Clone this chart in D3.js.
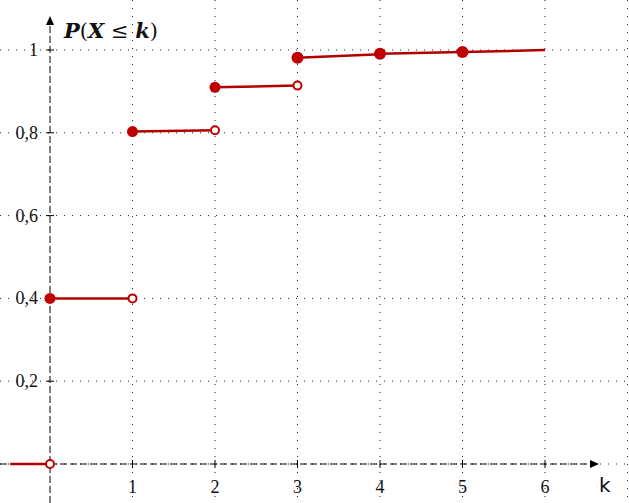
<!DOCTYPE html>
<html><head><meta charset="utf-8">
<script src="https://cdn.jsdelivr.net/npm/d3@7"></script>
<style>html,body{margin:0;padding:0;background:#fff;}svg{display:block;}</style>
</head><body>
<svg id="c" width="629" height="503"></svg>
<script>
// Data
const stepStart = [-0.48, 0, 1, 2, 3, 4, 5];
const stepEnd   = [0, 1, 2, 3, 4, 5, 6];
const valStart  = [0, 0.4, 0.803, 0.91, 0.981, 0.991, 0.995];
const valEnd    = [0, 0.4, 0.806, 0.914, 0.99, 0.995, 1.0];
const filledK   = [0, 1, 2, 3, 4, 5];
const filledV   = [0.4, 0.803, 0.91, 0.981, 0.991, 0.995];
const openK     = [0, 1, 2, 3];
const openV     = [0, 0.4, 0.806, 0.914];
const xTicks    = [1, 2, 3, 4, 5, 6];
const yTicks    = [0.2, 0.4, 0.6, 0.8, 1];
const yTickLabels = ["0,2", "0,4", "0,6", "0,8", "1"];
const xGrid     = [1, 2, 3, 4, 5, 6, 7];

const svg = d3.select("#c");
const W = 629, H = 503;
const x = d3.scaleLinear().domain([0, 6]).range([50, 545]);
const y = d3.scaleLinear().domain([0, 1]).range([464, 50]);

// grid
const g = svg.append("g");
g.selectAll(".vg").data(xGrid).join("line")
  .attr("x1", d => x(d)).attr("x2", d => x(d)).attr("y1", 0).attr("y2", H)
  .attr("stroke", "#222").attr("stroke-width", 1).attr("stroke-dasharray", "1,7");
g.selectAll(".hg").data([0].concat(yTicks)).join("line")
  .attr("x1", 0).attr("x2", W).attr("y1", d => y(d)).attr("y2", d => y(d))
  .attr("stroke", "#222").attr("stroke-width", 1).attr("stroke-dasharray", "1,7");

// axes
const ax = svg.append("g");
ax.append("line").attr("x1", 0).attr("x2", 592).attr("y1", y(0)).attr("y2", y(0))
  .attr("stroke", "#000").attr("stroke-width", 1).attr("stroke-dasharray", "7,3");
ax.append("line").attr("x1", x(0)).attr("x2", x(0)).attr("y1", H).attr("y2", 24)
  .attr("stroke", "#000").attr("stroke-width", 1).attr("stroke-dasharray", "7,3");
ax.append("path").attr("d", `M${599},${y(0)} L${590},${y(0)-4} L${590},${y(0)+4} Z`).attr("fill", "#000");
ax.append("path").attr("d", `M${x(0)},${16} L${x(0)-4},${25} L${x(0)+4},${25} Z`).attr("fill", "#000");

// ticks
ax.selectAll(".xt").data(xTicks).join("line")
  .attr("x1", d => x(d)).attr("x2", d => x(d)).attr("y1", y(0) - 4).attr("y2", y(0) + 4)
  .attr("stroke", "#000");
ax.selectAll(".yt").data(yTicks).join("line")
  .attr("x1", x(0) - 4).attr("x2", x(0) + 4).attr("y1", d => y(d)).attr("y2", d => y(d))
  .attr("stroke", "#000");

const lblFont = "'Liberation Serif', 'DejaVu Serif', serif";
ax.selectAll(".xl").data(xTicks).join("text")
  .attr("x", d => x(d)).attr("y", 493).attr("text-anchor", "middle")
  .attr("font-family", lblFont).attr("font-size", 18).attr("fill", "#111").text(d => d);
ax.selectAll(".yl").data(yTicks).join("text")
  .attr("x", 38).attr("y", d => y(d) + 6).attr("text-anchor", "end")
  .attr("font-family", lblFont).attr("font-size", 18).attr("fill", "#111")
  .text((d, i) => yTickLabels[i]);

svg.append("text").attr("x", 599).attr("y", 492).attr("font-family", "'DejaVu Sans', sans-serif")
  .attr("font-size", 20).attr("fill", "#111").text("k");

const title = svg.append("text").attr("x", 64).attr("y", 38)
  .attr("font-family", "'DejaVu Serif', serif").attr("font-size", 21).attr("fill", "#111");
title.append("tspan").attr("font-weight", "bold").attr("font-style", "italic").text("P");
title.append("tspan").text("(");
title.append("tspan").attr("font-weight", "bold").attr("font-style", "italic").text("X");
title.append("tspan").text(" ≤ ");
title.append("tspan").attr("font-weight", "bold").attr("font-style", "italic").text("k");
title.append("tspan").text(")");

// steps
const red = "#c00000", lineRed = "#b00000";
svg.selectAll(".seg").data(stepStart).join("line")
  .attr("x1", (d, i) => x(d)).attr("x2", (d, i) => x(stepEnd[i]))
  .attr("y1", (d, i) => y(valStart[i])).attr("y2", (d, i) => y(valEnd[i]))
  .attr("stroke", lineRed).attr("stroke-width", 2.5);

svg.selectAll(".open").data(openK).join("circle")
  .attr("cx", d => x(d)).attr("cy", (d, i) => y(openV[i])).attr("r", 4)
  .attr("fill", "#fff").attr("stroke", red).attr("stroke-width", 2);

svg.selectAll(".fill").data(filledK).join("circle")
  .attr("cx", d => x(d)).attr("cy", (d, i) => y(filledV[i])).attr("r", (d) => d >= 3 ? 6 : 5.5)
  .attr("fill", red);
</script>
</body></html>
